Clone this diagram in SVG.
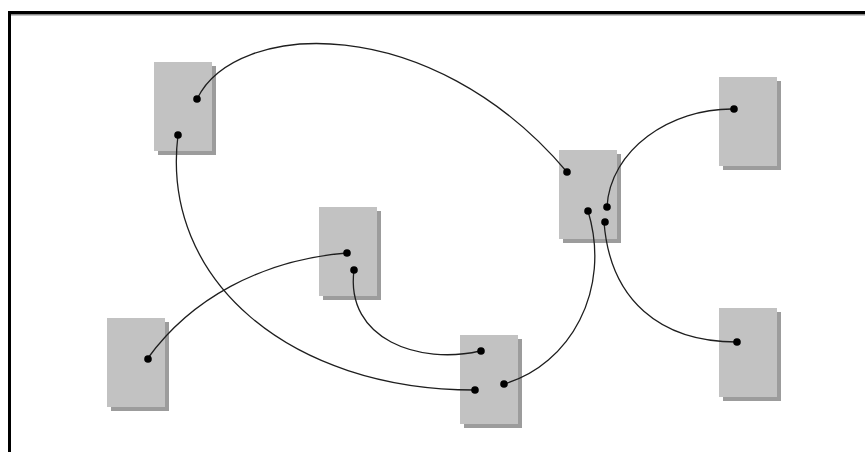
<svg xmlns="http://www.w3.org/2000/svg" width="865" height="452" viewBox="0 0 865 452">
  <style>
    .shadow { fill: #9c9c9c; }
    .box { fill: #c2c2c2; }
    .wire { fill: none; stroke: #1e1e1e; stroke-width: 1.3; }
    .pin { fill: #000; }
  </style>
  <defs>
    <g id="card">
      <rect class="shadow" x="4" y="4" width="58" height="89"/>
      <rect class="box" x="0" y="0" width="58" height="89"/>
    </g>
  </defs>

  <rect x="0" y="0" width="865" height="452" fill="#fff"/>

  <!-- frame -->
  <g id="frame">
    <rect x="8" y="11" width="857" height="3" fill="#000"/>
    <rect x="11" y="14" width="854" height="1.5" fill="#8a8a8a"/>
    <rect x="8" y="11" width="3" height="441" fill="#000"/>
  </g>

  <!-- nodes -->
  <g id="node-a"><use href="#card" x="154" y="62"/></g>
  <g id="node-b"><use href="#card" x="559" y="150"/></g>
  <g id="node-c"><use href="#card" x="460" y="335"/></g>
  <g id="node-d"><use href="#card" x="719" y="77"/></g>
  <g id="node-e"><use href="#card" x="319" y="207"/></g>
  <g id="node-f"><use href="#card" x="107" y="318"/></g>
  <g id="node-g"><use href="#card" x="719" y="308"/></g>

  <!-- connectors -->
  <g id="connectors">
    <path class="wire" d="M197,99 C235,20 430,10 567,172"/>
    <path class="wire" d="M178,135 C160,280 290,390 475,390"/>
    <path class="wire" d="M148,358 C190,300 260,260 347,253"/>
    <path class="wire" d="M354,270 C345,340 420,365 480,351"/>
    <path class="wire" d="M504,384 C570,365 612,290 588,211"/>
    <path class="wire" d="M604,222 C610,300 660,342 737,342"/>
    <path class="wire" d="M607,207 C610,150 670,108 734,109"/>
  </g>

  <!-- pins -->
  <g id="pins">
    <circle class="pin" cx="197" cy="99" r="3.8"/>
    <circle class="pin" cx="178" cy="135" r="3.8"/>
    <circle class="pin" cx="567" cy="172" r="3.8"/>
    <circle class="pin" cx="607" cy="207" r="3.8"/>
    <circle class="pin" cx="588" cy="211" r="3.8"/>
    <circle class="pin" cx="605" cy="222" r="3.8"/>
    <circle class="pin" cx="481" cy="351" r="3.8"/>
    <circle class="pin" cx="475" cy="390" r="3.8"/>
    <circle class="pin" cx="504" cy="384" r="3.8"/>
    <circle class="pin" cx="734" cy="109" r="3.8"/>
    <circle class="pin" cx="347" cy="253" r="3.8"/>
    <circle class="pin" cx="354" cy="270" r="3.8"/>
    <circle class="pin" cx="148" cy="359" r="3.8"/>
    <circle class="pin" cx="737" cy="342" r="3.8"/>
  </g>
</svg>
